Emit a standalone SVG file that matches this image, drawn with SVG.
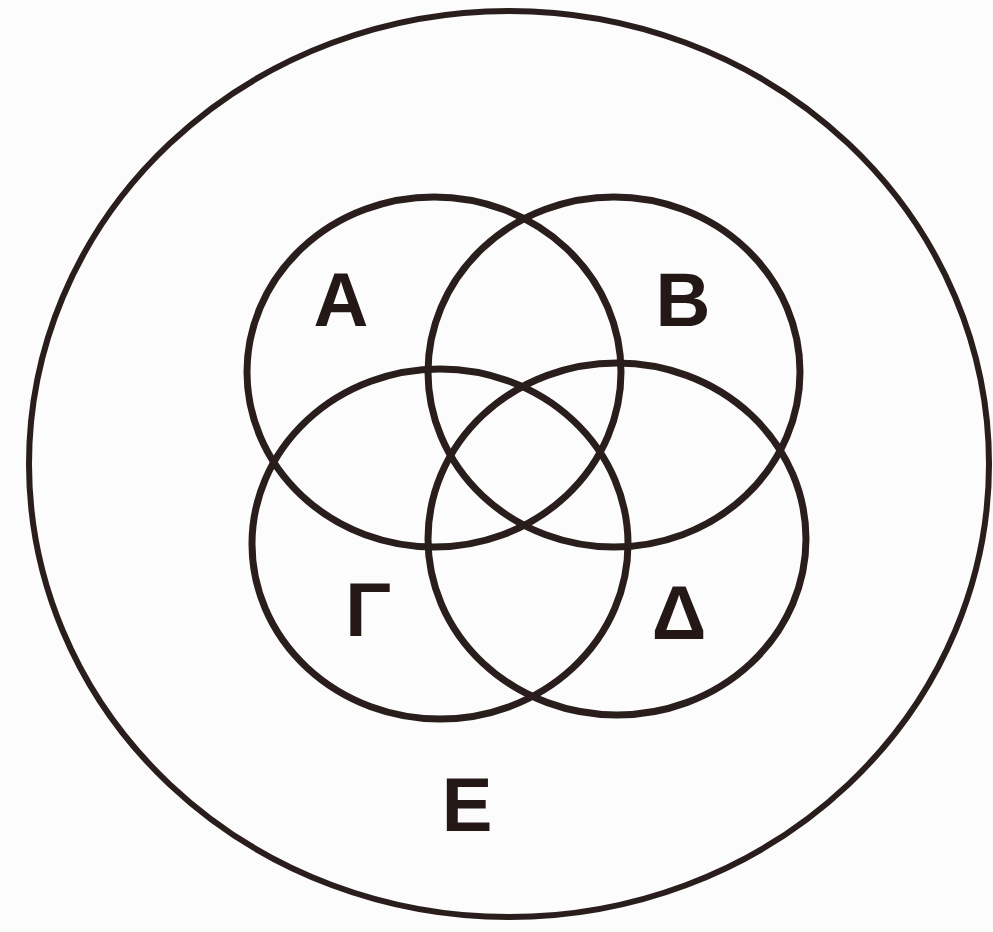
<svg xmlns="http://www.w3.org/2000/svg" width="993" height="932" viewBox="0 0 993 932">
<style>
.c{fill:none;stroke:#2a1e1c;stroke-width:7}
.o{fill:none;stroke:#2a1e1c;stroke-width:6}
.t{font-family:"Liberation Sans",Arial,sans-serif;font-weight:bold;font-size:76px;fill:#231815;text-anchor:middle}
</style>
<rect width="993" height="932" fill="#fcfcfd"/>
<g id="outer-E"><ellipse class="o" cx="509" cy="464" rx="480" ry="453"/><text class="t" x="467" y="831">Ε</text></g>
<g id="set-A"><ellipse class="c" cx="434" cy="372" rx="187" ry="175"/><text class="t" x="341" y="326">Α</text></g>
<g id="set-B"><ellipse class="c" cx="614" cy="372" rx="186" ry="175"/><text class="t" x="683" y="326">Β</text></g>
<g id="set-G"><ellipse class="c" cx="440" cy="544" rx="188" ry="175"/><text class="t" x="368" y="636">Γ</text></g>
<g id="set-D"><ellipse class="c" cx="617" cy="539" rx="189" ry="176"/><text class="t" x="679" y="639">Δ</text></g>
<g id="connectors"/>
</svg>
